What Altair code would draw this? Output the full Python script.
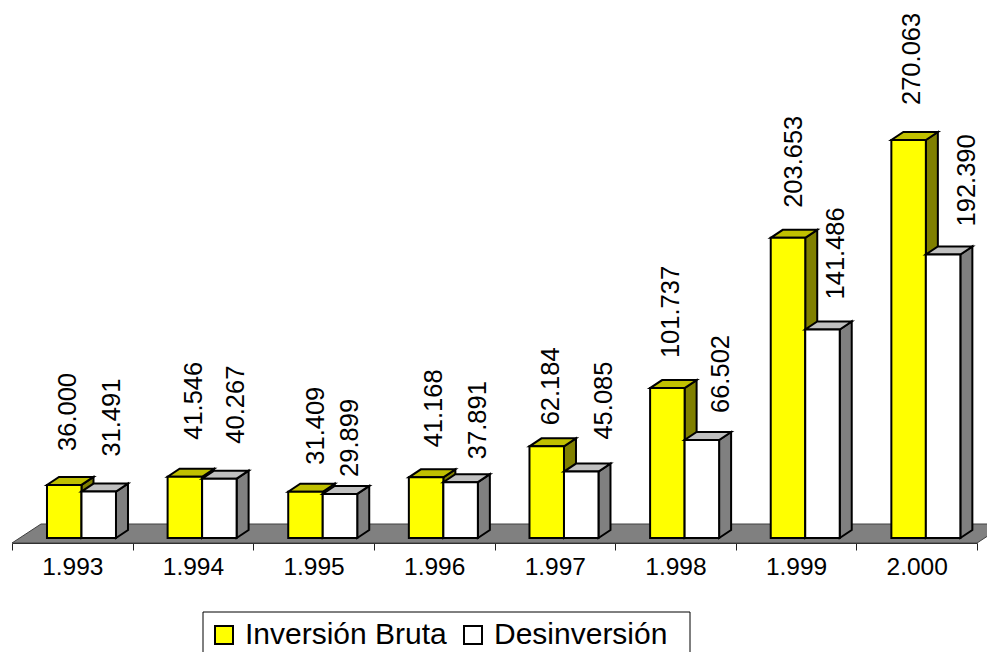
import json
import altair as alt
import pandas as pd

years = ["1.993", "1.994", "1.995", "1.996", "1.997", "1.998", "1.999", "2.000"]
inversion = [36000, 41546, 31409, 41168, 62184, 101737, 203653, 270063]
desinversion = [31491, 40267, 29899, 37891, 45085, 66502, 141486, 192390]
series_names = ["Inversión Bruta", "Desinversión"]

FONT = "Liberation Sans"
PX_X = 120.625           # pixels per category
PX_Y = 398 / 270063      # pixels per value unit
PLOT_W, PLOT_H = 965, 535
Y_MIN = -5 / PX_Y
Y_MAX = Y_MIN + PLOT_H / PX_Y

OFFSET, BAR_W = 0.29, 34.5 / PX_X
DX, DY = 12 / PX_X, 8 / PX_Y
FLOOR_DX, FLOOR_DY = 29 / PX_X, 19 / PX_Y

# label placement: per-series hand nudges in pixels, by category
LABEL_NUDGE_X = [[-2, 3, 5, 2, -2, -2, 0, -3], [-1, 3, -4, 3, 9, 5, 0, 10]]
LABEL_NUDGE_Y = [[3, 6, -4, -1, -10, -1, -1, 4], [4, 4, -14, -8, 1, -4, -1, -3]]


def parallelogram_side(x, lo, hi):
    return [
        {"x": x, "y": lo, "y2": hi},
        {"x": x + DX, "y": lo + DY, "y2": hi + DY},
    ]


def parallelogram_top(x0, x1, v):
    return [
        {"x": x0, "y": v, "y2": v},
        {"x": x0 + DX, "y": v, "y2": v + DY},
        {"x": x1, "y": v, "y2": v + DY},
        {"x": x1 + DX, "y": v + DY, "y2": v + DY},
    ]


fronts, sides, tops, labels = [], [], [], []
for s, (name, vals, lab_dx) in enumerate(
    zip(series_names, [inversion, desinversion], [6 / PX_X, 14 / PX_X])
):
    for i, v in enumerate(vals):
        x0 = i + OFFSET + s * BAR_W
        x1 = x0 + BAR_W
        fronts.append({"series": name, "x": x0, "x2": x1, "y": 0, "y2": v})
        for p in parallelogram_side(x1, 0, v):
            sides.append({"series": name, "id": i, **p})
        for p in parallelogram_top(x0, x1, v):
            tops.append({"series": name, "id": i, **p})
        labels.append({
            "series": name,
            "x": (x0 + x1) / 2 + lab_dx + LABEL_NUDGE_X[s][i] / PX_X,
            "y": v + (31 + LABEL_NUDGE_Y[s][i]) / PX_Y,
            "text": f"{v:,}".replace(",", "."),
        })

floor = pd.DataFrame([
    {"x": 0, "y": Y_MIN, "y2": Y_MIN},
    {"x": FLOOR_DX, "y": Y_MIN, "y2": Y_MIN + FLOOR_DY},
    {"x": 8, "y": Y_MIN, "y2": Y_MIN + FLOOR_DY},
    {"x": 8 + FLOOR_DX, "y": Y_MIN + FLOOR_DY, "y2": Y_MIN + FLOOR_DY},
])
fronts, sides, tops, labels = map(pd.DataFrame, (fronts, sides, tops, labels))

x_scale = alt.Scale(domain=[0, 8], nice=False, zero=False)
y_scale = alt.Scale(domain=[Y_MIN, Y_MAX], nice=False, zero=False)
x_axis = alt.Axis(
    values=list(range(9)),
    labelExpr=f"{json.dumps(years + [''])}[datum.value]",
    labelOffset=PX_X / 2,
    labelFont=FONT,
    labelFontSize=24.5,
    labelColor="#000000",
    labelPadding=5,
    labelOverlap=False,
    labelFlush=False,
    labelBound=False,
    labelAngle=0,
    tickColor="#222222",
    tickSize=7,
    tickWidth=1,
    domainColor="#222222",
    domainWidth=1,
    grid=False,
)
X = alt.X("x:Q", scale=x_scale, title=None, axis=x_axis)
Y = alt.Y("y:Q", scale=y_scale, axis=None, stack=None)
Y2 = alt.Y2("y2:Q")

floor_layer = alt.Chart(floor).mark_area(
    color="#808080", stroke="#404040", strokeWidth=1
).encode(x=X, y=Y, y2=Y2)


def bar_layers(name, side_color, top_color):
    side = alt.Chart(sides[sides.series == name]).mark_area(
        color=side_color, stroke="black", strokeWidth=2
    ).encode(x=X, y=Y, y2=Y2, detail="id:N")
    top = alt.Chart(tops[tops.series == name]).mark_area(
        color=top_color, stroke="black", strokeWidth=2
    ).encode(x=X, y=Y, y2=Y2, detail="id:N")
    front = alt.Chart(fronts[fronts.series == name]).mark_rect(
        stroke="black", strokeWidth=2
    ).encode(
        x=X,
        x2=alt.X2("x2:Q"),
        y=alt.Y("y:Q", scale=y_scale, axis=None),
        y2=Y2,
        color=alt.Color(
            "series:N",
            scale=alt.Scale(domain=series_names, range=["#FFFF00", "#FFFFFF"]),
            legend=alt.Legend(
                title=None,
                orient="none",
                legendX=197,
                legendY=612,
                direction="horizontal",
                columns=2,
                padding=0,
                labelFont=FONT,
                labelFontSize=30,
                labelColor="#000000",
                labelLimit=400,
                symbolType="square",
                symbolSize=324,
                symbolStrokeColor="black",
                symbolStrokeWidth=2,
                symbolOpacity=1,
                columnPadding=11,
                labelOffset=6,
            ),
        ),
    )
    return [side, top, front]


text_layer = alt.Chart(labels).mark_text(
    angle=270, align="left", baseline="middle", font=FONT, fontSize=25.5, color="#000000"
).encode(
    x=X,
    y=alt.Y("y:Q", scale=y_scale, axis=None),
    text="text:N",
)

# Frame round the legend: decoration, placed in pixels
legend_box = alt.Chart(pd.DataFrame({"k": [0]})).mark_rect(
    fillOpacity=0, stroke="black", strokeWidth=1, clip=False
).encode(
    x=alt.value(191), x2=alt.value(678),
    y=alt.value(604), y2=alt.value(660),
)

chart = alt.layer(
    floor_layer,
    *bar_layers(series_names[0], "#808000", "#C0C000"),
    *bar_layers(series_names[1], "#808080", "#C0C0C0"),
    text_layer,
    legend_box,
).properties(
    width=PLOT_W,
    height=PLOT_H,
    autosize=alt.AutoSizeParams(type="none"),
    padding={"left": 4, "top": 0, "right": 10, "bottom": 109},
).configure_view(stroke=None)

chart.save("out.html", embed_options={"renderer": "svg", "actions": False})
